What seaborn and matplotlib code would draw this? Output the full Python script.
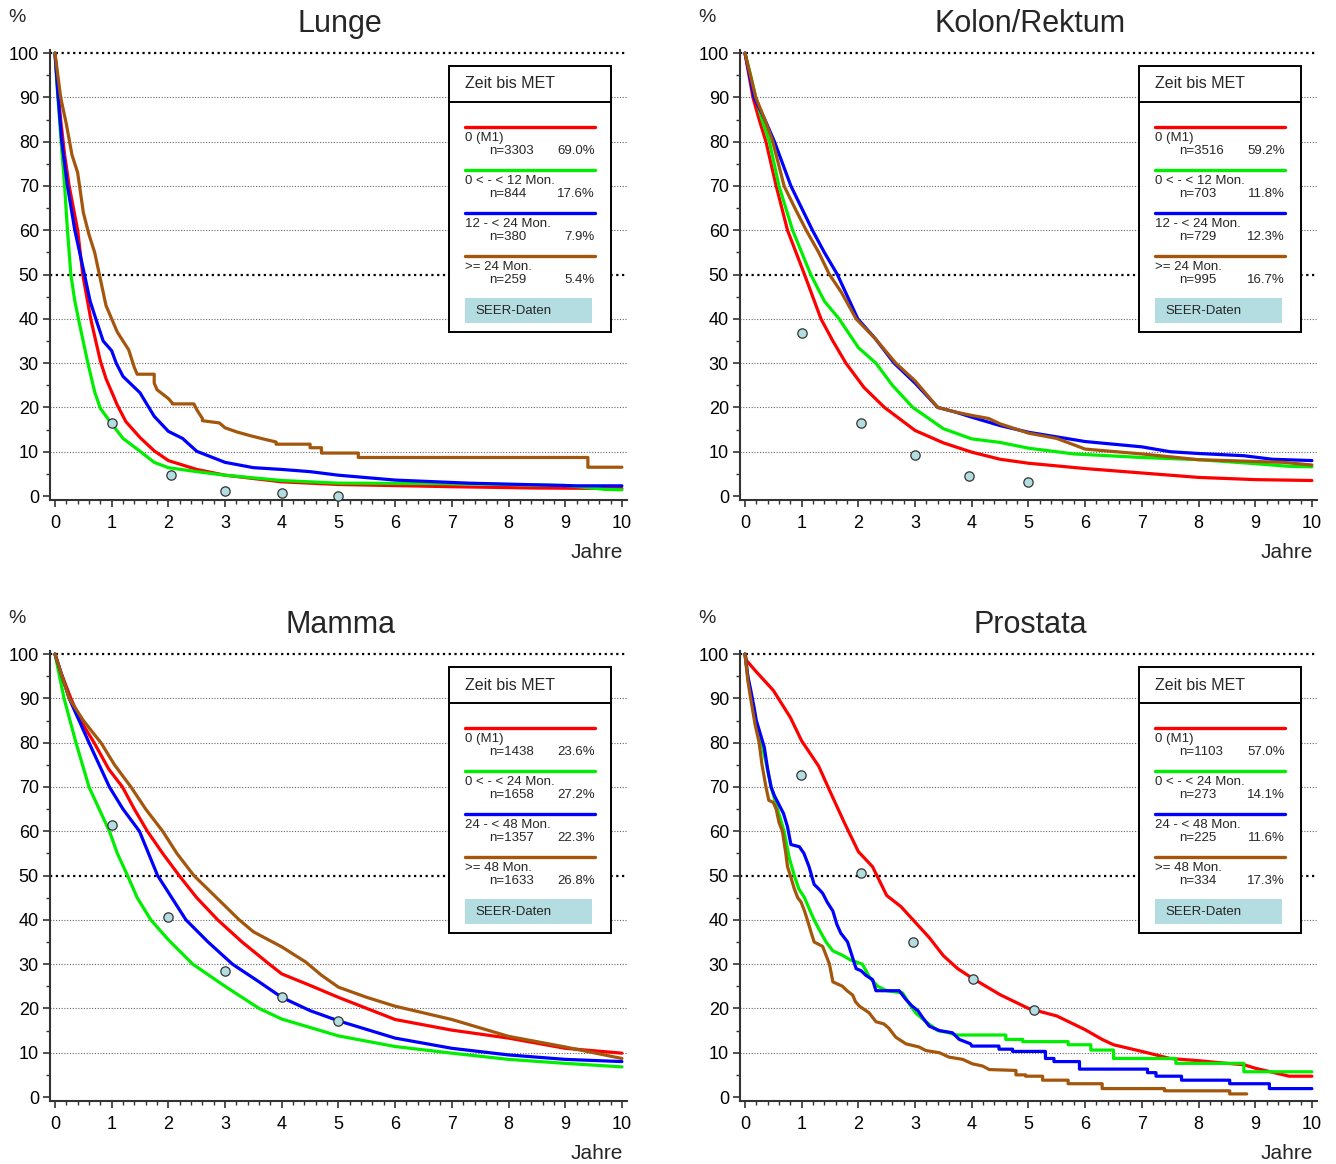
import matplotlib
matplotlib.use("Agg")
import matplotlib.pyplot as plt
from matplotlib.patches import Rectangle
from matplotlib.lines import Line2D
import seaborn as sns
import numpy as np

# ---- data (time in years, survival in %) ----
# repeated time values mark the vertical drops of the Kaplan-Meier steps
GROUP_COLORS = ["#ff0000", "#00ee00", "#0000ff", "#a4560c"]
SEER_COLOR = "#b3dde0"

LABELS_12 = ["0 (M1)", "0 < - < 12 Mon.", "12 - < 24 Mon.", ">= 24 Mon."]
LABELS_24 = ["0 (M1)", "0 < - < 24 Mon.", "24 - < 48 Mon.", ">= 48 Mon."]

# Lunge
LUNGE_N = [3303, 844, 380, 259]
LUNGE_PCT = ["69.0%", "17.6%", "7.9%", "5.4%"]
LUNGE_RED = [(0, 100), (0.05, 92), (0.1, 85), (0.17, 77), (0.25, 70), (0.4, 60), (0.49, 50),
             (0.63, 40), (0.8, 30.5), (0.9, 26.5), (1.0, 23.5), (1.1, 20.5), (1.25, 16.8),
             (1.5, 13.2), (1.75, 10.2), (2.0, 8.0), (2.5, 6.0), (3.0, 4.7), (4.0, 3.2),
             (5.0, 2.6), (7.0, 2.1), (8.5, 1.8), (10.0, 1.7)]
LUNGE_GREEN = [(0, 100), (0.04, 92), (0.08, 85), (0.12, 78), (0.17, 70), (0.22, 60), (0.28, 50),
               (0.35, 44), (0.43, 39), (0.58, 30), (0.7, 23.5), (0.8, 19.8), (1.0, 16.3),
               (1.2, 13), (1.5, 10.1), (1.75, 7.6), (2.0, 6.4), (2.5, 5.5), (3.0, 4.7),
               (4.0, 3.5), (5.0, 2.9), (7.0, 2.8), (9.0, 2.4), (9.7, 1.5), (10.0, 1.4)]
LUNGE_BLUE = [(0, 100), (0.05, 91), (0.12, 80), (0.22, 70), (0.35, 60), (0.52, 50), (0.62, 44),
              (0.72, 40), (0.85, 35), (1.0, 32.8), (1.08, 30), (1.2, 27), (1.5, 23.3),
              (1.75, 18), (2.0, 14.6), (2.25, 13), (2.5, 10.1), (3.0, 7.6), (3.5, 6.4),
              (4.0, 6.0), (4.5, 5.5), (5.0, 4.7), (6.0, 3.6), (7.3, 2.9), (9.2, 2.3), (10.0, 2.3)]
LUNGE_BROWN = [(0, 100), (0.05, 95), (0.1, 90), (0.2, 84), (0.3, 77), (0.4, 73), (0.5, 64),
               (0.6, 59), (0.7, 55), (0.8, 49), (0.9, 43), (1.0, 40), (1.1, 37), (1.2, 35),
               (1.3, 33), (1.4, 29), (1.45, 27.5), (1.75, 27.5), (1.75, 25.5), (1.8, 24),
               (1.9, 23), (2.0, 22), (2.07, 21), (2.07, 20.8), (2.45, 20.8), (2.5, 19.5),
               (2.6, 17.5), (2.6, 17), (2.9, 16.5), (3.0, 15.4), (3.2, 14.5), (3.45, 13.6),
               (3.7, 12.8), (3.9, 12.2), (3.9, 11.7), (4.5, 11.7), (4.5, 10.9), (4.7, 10.9),
               (4.7, 9.7), (5.35, 9.7), (5.35, 8.7), (9.4, 8.7), (9.4, 6.5), (10.0, 6.5)]
LUNGE_SEER_T = [1.0, 2.05, 3.0, 4.0, 5.0]
LUNGE_SEER_S = [16.5, 4.7, 1.2, 0.7, 0.1]

# Kolon/Rektum
KOLON_N = [3516, 703, 729, 995]
KOLON_PCT = ["59.2%", "11.8%", "12.3%", "16.7%"]
KOLON_RED = [(0, 100), (0.07, 95), (0.14, 90), (0.25, 85), (0.37, 80), (0.55, 70), (0.75, 60),
             (0.9, 55), (1.05, 50), (1.34, 40), (1.55, 35), (1.78, 30), (2.1, 24.5),
             (2.46, 20), (3.0, 14.8), (3.5, 12), (4.0, 9.9), (4.5, 8.3), (5.0, 7.4),
             (6.0, 6.2), (7.0, 5.2), (8.0, 4.2), (9.0, 3.7), (10.0, 3.5)]
KOLON_GREEN = [(0, 100), (0.1, 95), (0.19, 90), (0.3, 85), (0.43, 80), (0.6, 70), (0.84, 60),
               (1.16, 50), (1.4, 44), (1.66, 40), (2.0, 33.5), (2.31, 30), (2.6, 25),
               (2.96, 20), (3.5, 15.2), (4.0, 12.9), (4.5, 12.1), (5.0, 10.8), (5.8, 9.5),
               (7.0, 8.7), (8.0, 8.2), (8.9, 7.4), (9.6, 6.7), (10.0, 6.6)]
KOLON_BLUE = [(0, 100), (0.16, 90), (0.35, 85), (0.52, 80), (0.81, 70), (1.0, 65), (1.19, 60),
              (1.4, 55), (1.63, 50), (1.99, 40), (2.3, 35.5), (2.63, 30), (3.0, 25.5),
              (3.4, 20), (3.7, 19), (4.0, 17.8), (4.5, 15.9), (5.0, 14.4), (6.0, 12.3),
              (7.0, 11.1), (7.5, 10), (8.0, 9.6), (8.8, 9.1), (9.3, 8.3), (10.0, 8.0)]
KOLON_BROWN = [(0, 100), (0.19, 90), (0.35, 85), (0.49, 80), (0.69, 70), (0.88, 65), (1.08, 60),
               (1.3, 55), (1.49, 50), (1.7, 46), (1.96, 40), (2.3, 35.5), (2.66, 30),
               (3.0, 26), (3.4, 20), (3.7, 19), (4.0, 18.2), (4.3, 17.5), (4.5, 16.3),
               (5.0, 14.2), (5.5, 13.0), (6.0, 10.6), (7.0, 9.5), (8.0, 8.2), (9.0, 7.8),
               (9.5, 7.6), (10.0, 7.0)]
KOLON_SEER_T = [1.0, 2.05, 3.0, 3.95, 5.0]
KOLON_SEER_S = [36.9, 16.5, 9.3, 4.6, 3.2]

# Mamma
MAMMA_N = [1438, 1658, 1357, 1633]
MAMMA_PCT = ["23.6%", "27.2%", "22.3%", "26.8%"]
MAMMA_RED = [(0, 100), (0.1, 96), (0.28, 90), (0.45, 85), (0.69, 80), (0.95, 74), (1.19, 70),
             (1.4, 65), (1.63, 60), (1.9, 55), (2.19, 50), (2.5, 45), (2.87, 40), (3.3, 35),
             (3.78, 30), (4.0, 27.8), (4.5, 25.2), (5.0, 22.5), (6.0, 17.5), (7.0, 15.1),
             (8.0, 13.3), (9.0, 11.0), (10.0, 9.9)]
MAMMA_GREEN = [(0, 100), (0.16, 90), (0.37, 80), (0.6, 70), (0.96, 60), (1.1, 55), (1.28, 50),
               (1.45, 45), (1.69, 40), (2.0, 35.5), (2.43, 30), (3.0, 25), (3.6, 20),
               (4.0, 17.6), (4.5, 15.7), (5.0, 13.8), (6.0, 11.4), (7.0, 9.9), (8.0, 8.5),
               (9.0, 7.6), (10.0, 6.8)]
MAMMA_BLUE = [(0, 100), (0.25, 90), (0.6, 80), (0.96, 70), (1.2, 65), (1.49, 60), (1.81, 50),
              (2.31, 40), (2.7, 35), (3.13, 30), (3.6, 26), (4.0, 22.5), (4.5, 19.5),
              (5.0, 17.2), (6.0, 13.3), (7.0, 11.0), (8.0, 9.5), (9.0, 8.5), (10.0, 8.0)]
MAMMA_BROWN = [(0, 100), (0.25, 90), (0.5, 85), (0.81, 80), (1.05, 75), (1.34, 70), (1.6, 65),
               (1.9, 60), (2.15, 55), (2.45, 50), (2.85, 45), (3.25, 40), (3.5, 37.3),
               (4.0, 33.9), (4.42, 30.5), (4.7, 27.5), (5.0, 24.8), (5.5, 22.5), (6.0, 20.5),
               (7.0, 17.5), (8.0, 13.7), (9.0, 11.3), (10.0, 8.7)]
MAMMA_SEER_T = [1.0, 2.0, 3.0, 4.0, 5.0]
MAMMA_SEER_S = [61.4, 40.6, 28.4, 22.6, 17.2]

# Prostata
PROSTATA_N = [1103, 273, 225, 334]
PROSTATA_PCT = ["57.0%", "14.1%", "11.6%", "17.3%"]
PROSTATA_RED = [(0, 100), (0.03, 98.5), (0.2, 96), (0.5, 91.8), (0.8, 85.7), (1.0, 80.4),
                (1.3, 74.7), (1.5, 69), (1.75, 62), (2.0, 55.4), (2.25, 52), (2.5, 45.5),
                (2.75, 43), (3.0, 39.5), (3.25, 36), (3.5, 31.9), (3.75, 29), (4.0, 26.9),
                (4.5, 23.1), (5.0, 20.0), (5.5, 18.3), (6.0, 15.2), (6.3, 13), (6.5, 11.8),
                (7.0, 10.3), (7.5, 8.7), (8.0, 8.2), (8.5, 7.6), (8.8, 7.3), (9.0, 6.5),
                (9.6, 4.7), (10.0, 4.7)]
PROSTATA_GREEN = [(0, 100), (0.05, 95), (0.1, 91), (0.14, 88), (0.2, 84), (0.31, 79), (0.38, 75),
                  (0.46, 70), (0.55, 66), (0.62, 63), (0.69, 60), (0.78, 54), (0.87, 50),
                  (0.95, 47), (1.05, 45), (1.15, 42), (1.22, 40), (1.3, 38), (1.43, 35),
                  (1.55, 33), (1.72, 32), (1.85, 31), (2.07, 30), (2.2, 27), (2.34, 25),
                  (2.5, 24), (2.78, 23.5), (2.9, 21), (3.01, 19), (3.19, 17), (3.4, 15),
                  (3.6, 14.5), (3.72, 14), (4.6, 14), (4.6, 13), (4.9, 13), (4.9, 12.5),
                  (5.7, 12.5), (5.7, 11.8), (6.1, 11.8), (6.1, 10.6), (6.5, 10.6), (6.5, 8.7),
                  (7.6, 8.7), (7.6, 7.6), (8.8, 7.6), (8.8, 5.7), (10.0, 5.7)]
PROSTATA_BLUE = [(0, 100), (0.05, 95), (0.1, 92), (0.16, 88), (0.2, 85), (0.27, 82), (0.34, 79),
                 (0.4, 74), (0.46, 70), (0.52, 68), (0.6, 66), (0.68, 64), (0.75, 61),
                 (0.81, 57), (0.96, 56.5), (1.04, 55), (1.13, 52), (1.22, 48), (1.3, 47),
                 (1.37, 46), (1.45, 44), (1.55, 42), (1.62, 39), (1.69, 37), (1.81, 35),
                 (1.96, 29), (2.05, 28.5), (2.13, 27.5), (2.25, 26.5), (2.31, 24), (2.72, 24),
                 (2.84, 22), (2.95, 20.5), (3.05, 19.5), (3.13, 18), (3.25, 16), (3.43, 15),
                 (3.66, 14.5), (3.78, 13), (3.98, 12), (4.0, 11.5), (4.48, 11.5), (4.48, 10.8),
                 (4.72, 10.8), (4.72, 10.3), (5.3, 10.3), (5.3, 8.7), (5.45, 8.7), (5.45, 8.0),
                 (5.9, 8.0), (5.9, 6.3), (7.1, 6.3), (7.1, 5.5), (7.25, 5.5), (7.25, 4.7),
                 (7.7, 4.7), (7.7, 3.8), (8.55, 3.8), (8.55, 3.0), (9.25, 3.0), (9.25, 1.9),
                 (10.0, 1.9)]
PROSTATA_BROWN = [(0, 100), (0.05, 94), (0.1, 90), (0.18, 84), (0.25, 80), (0.3, 75), (0.37, 70),
                  (0.42, 67), (0.5, 66.5), (0.55, 65), (0.6, 62), (0.66, 60), (0.72, 55),
                  (0.75, 52), (0.8, 50), (0.87, 47), (0.93, 45), (0.99, 44), (1.05, 42),
                  (1.1, 40), (1.17, 37), (1.22, 35), (1.37, 34), (1.43, 32), (1.49, 30),
                  (1.55, 26), (1.72, 25), (1.8, 24), (1.9, 23), (1.95, 21.5), (2.02, 20.5),
                  (2.19, 19), (2.31, 17), (2.45, 16.5), (2.54, 15.5), (2.66, 13.5), (2.84, 12),
                  (3.07, 11.3), (3.19, 10.5), (3.43, 10), (3.6, 9), (3.84, 8.5), (4.01, 7.5),
                  (4.19, 7), (4.31, 6.2), (4.78, 6.0), (4.78, 5.0), (4.95, 5.0), (4.95, 4.7),
                  (5.25, 4.7), (5.25, 3.8), (5.7, 3.8), (5.7, 3.0), (6.3, 3.0), (6.3, 1.9),
                  (7.4, 1.9), (7.4, 1.4), (8.55, 1.4), (8.55, 0.7), (8.85, 0.7)]
PROSTATA_SEER_T = [0.99, 2.04, 2.97, 4.02, 5.09]
PROSTATA_SEER_S = [72.7, 50.5, 35.1, 26.6, 19.7]

PANELS = [
    ("Lunge", [LUNGE_RED, LUNGE_GREEN, LUNGE_BLUE, LUNGE_BROWN],
     LABELS_12, LUNGE_N, LUNGE_PCT, LUNGE_SEER_T, LUNGE_SEER_S),
    ("Kolon/Rektum", [KOLON_RED, KOLON_GREEN, KOLON_BLUE, KOLON_BROWN],
     LABELS_12, KOLON_N, KOLON_PCT, KOLON_SEER_T, KOLON_SEER_S),
    ("Mamma", [MAMMA_RED, MAMMA_GREEN, MAMMA_BLUE, MAMMA_BROWN],
     LABELS_24, MAMMA_N, MAMMA_PCT, MAMMA_SEER_T, MAMMA_SEER_S),
    ("Prostata", [PROSTATA_RED, PROSTATA_GREEN, PROSTATA_BLUE, PROSTATA_BROWN],
     LABELS_24, PROSTATA_N, PROSTATA_PCT, PROSTATA_SEER_T, PROSTATA_SEER_S),
]

sns.set_theme(style="white")
plt.rcParams["font.family"] = ["Liberation Sans", "DejaVu Sans"]

W, H = 1336, 1164
fig = plt.figure(figsize=(W / 100, H / 100), dpi=100)

AX_W, AX_H = 577.0, 450.0
# left edge / top edge of each axes in pixels
POS = [(50, 50), (740, 50), (50, 651), (740, 651)]


def draw_legend(ax, labels, ns, pcts):
    def fx(px):
        return px / AX_W

    def fy(py):
        return 1 - py / AX_H

    bx, by, bw, bh = 399, 16, 162, 266
    ax.add_patch(Rectangle((fx(bx), fy(by + bh)), fx(bw), bh / AX_H, transform=ax.transAxes,
                           facecolor="white", edgecolor="black", lw=1.4, zorder=6, clip_on=False))
    ax.add_line(Line2D([fx(bx), fx(bx + bw)], [fy(by + 36)] * 2, transform=ax.transAxes,
                       color="black", lw=1.4, zorder=7))
    ax.text(fx(bx + 16), fy(by + 18), "Zeit bis MET", transform=ax.transAxes,
            fontsize=11.5, va="center", ha="left", zorder=7)
    for i, (lab, n, pct) in enumerate(zip(labels, ns, pcts)):
        ly = by + 61 + 43 * i
        ax.add_line(Line2D([fx(bx + 16), fx(bx + 146)], [fy(ly)] * 2, transform=ax.transAxes,
                           color=GROUP_COLORS[i], lw=2.4, zorder=7))
        ax.text(fx(bx + 16), fy(ly + 11), lab, transform=ax.transAxes, fontsize=9.5,
                va="center", ha="left", zorder=7)
        ax.text(fx(bx + 40), fy(ly + 24), f"n={n}", transform=ax.transAxes, fontsize=9.5,
                va="center", ha="left", zorder=7)
        ax.text(fx(bx + 146), fy(ly + 24), pct, transform=ax.transAxes, fontsize=9.5,
                va="center", ha="right", zorder=7)
    ax.add_patch(Rectangle((fx(bx + 16), fy(by + 257)), fx(127), 25 / AX_H, transform=ax.transAxes,
                           facecolor=SEER_COLOR, edgecolor="none", zorder=7))
    ax.text(fx(bx + 26), fy(by + 245), "SEER-Daten", transform=ax.transAxes, fontsize=9.5,
            va="center", ha="left", zorder=8)


for (left, top), (title, curves, labels, ns, pcts, seer_t, seer_s) in zip(POS, PANELS):
    ax = fig.add_axes([left / W, 1 - (top + AX_H) / H, AX_W / W, AX_H / H])
    ax.set_xlim(-0.088, 10.09)
    ax.set_ylim(-0.9, 100.7)

    for yv in range(10, 101, 10):
        if yv in (50, 100):
            ax.axhline(yv, color="black", lw=1.6, ls=(0, (1, 1.6)), zorder=1)
        else:
            ax.axhline(yv, color="#666666", lw=0.8, ls=(0, (1, 1.5)), zorder=1)

    for pts, col in zip(curves, GROUP_COLORS):
        t = [p[0] for p in pts]
        s = [p[1] for p in pts]
        sns.lineplot(x=t, y=s, ax=ax, color=col, lw=2.3, sort=False, estimator=None, zorder=3)

    sns.scatterplot(x=seer_t, y=seer_s, ax=ax, color=SEER_COLOR, edgecolor="#333333",
                    linewidth=0.9, s=45, zorder=5, clip_on=False)

    ax.set_xticks(range(0, 11))
    ax.set_xticks(np.arange(0, 10.01, 0.2), minor=True)
    ax.set_yticks(range(0, 101, 10))
    ax.set_yticks(range(5, 100, 10), minor=True)
    ax.tick_params(axis="both", which="major", direction="out", length=5, width=1.2,
                   color="#333333", labelsize=13, labelcolor="black", pad=3)
    ax.tick_params(axis="both", which="minor", direction="out", length=3, width=1.0,
                   color="#333333")
    ax.tick_params(axis="x", which="major", pad=6)
    ax.tick_params(left=True, bottom=True, which="both")
    for side in ("top", "right"):
        ax.spines[side].set_visible(False)
    for side in ("left", "bottom"):
        ax.spines[side].set_color("#333333")
        ax.spines[side].set_linewidth(1.5)
    ax.set_xlabel("")
    ax.set_ylabel("")

    ax.text(0.503, 1.058, title, transform=ax.transAxes, fontsize=22, ha="center", va="center")
    ax.text(-0.057, 1.073, "%", transform=ax.transAxes, fontsize=14, ha="center", va="center")
    ax.text(0.993, -0.116, "Jahre", transform=ax.transAxes, fontsize=15, ha="right", va="center")

    draw_legend(ax, labels, ns, pcts)

fig.savefig("out.png", dpi=100)
